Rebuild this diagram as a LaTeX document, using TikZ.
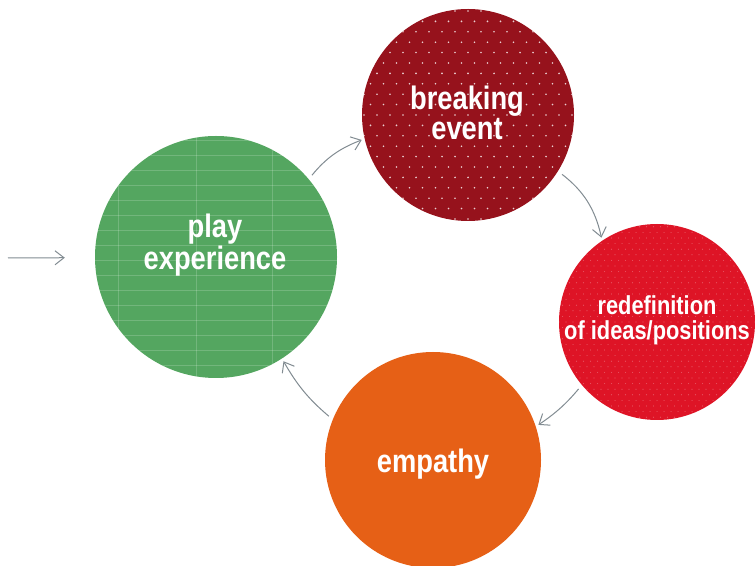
\documentclass[tikz,border=0pt]{standalone}
\usepackage{fontspec}
\setmainfont{Liberation Sans}[FakeStretch=0.84]
\usetikzlibrary{arrows.meta}
\definecolor{playgreen}{RGB}{84,166,96}
\definecolor{breakred}{RGB}{150,18,28}
\definecolor{redefred}{RGB}{222,20,38}
\definecolor{emporange}{RGB}{230,96,22}
\definecolor{flowgray}{RGB}{130,140,146}

\tikzset{
  bubble/.style={circle, inner sep=0pt, draw=none},
  bubtext/.style={text=white, font=\bfseries\fontsize{32.5}{29}\selectfont, align=center, inner sep=0pt},
  % faint ruled paper inside the green disc
  ruled/.style={path picture={
    \begin{scope}[x=1pt, y=1pt, shift={(path picture bounding box.center)}, white, opacity=.18, line width=.6pt]
      \foreach \k in {-9,...,9} \draw (-130,\k*15-3) -- (130,\k*15-3);
      \foreach \v in {-98,-20,56} \draw (\v,-130) -- (\v,130);
    \end{scope}}},
  % staggered dot raster: spacing, dot radius, opacity, columns, rows
  dotted fill/.style n args={5}{path picture={
    \begin{scope}[x=1pt, y=1pt, shift={(path picture bounding box.center)}, white, opacity=#3]
      \foreach \i in {-#4,...,#4} \foreach \j in {-#5,...,#5} {
        \fill (\i*#1, \j*#1*1.6) circle (#2);
        \fill (\i*#1+#1/2, \j*#1*1.6+#1*0.8) circle (#2);
      }
    \end{scope}}},
  flow/.style={draw=flowgray, line width=1pt, -{Straight Barb[length=9pt,width=14pt]}},
  loopflow/.style={flow, shorten <=5pt, shorten >=3pt}
}

\begin{document}
\begin{tikzpicture}[x=1pt, y=1pt]
  \clip (0,0) rectangle (755,565);
  \fill[white] (0,0) rectangle (755,565);

  %--- the four stages ---
  \node[bubble, fill=playgreen, minimum size=242pt, ruled] (play) at (216,308) {};
  \node[bubble, fill=breakred, minimum size=212pt, dotted fill={13}{0.9pt}{0.8}{9}{6}] (brk) at (468,450) {};
  \node[bubble, fill=redefred, minimum size=196pt, dotted fill={7}{0.6pt}{0.28}{15}{9}] (redef) at (657,243) {};
  \node[bubble, fill=emporange, minimum size=216pt] (emp) at (433,105) {};

  \node[bubtext] (playtxt) at (215,320) {play\\experience};
  \node[bubtext, font=\bfseries\fontsize{32.5}{30}\selectfont] (brktxt) at (467,452) {breaking\\event};
  \node[bubtext, font=\bfseries\fontsize{26}{25}\selectfont] (redeftxt) at (657,245) {redefinition\\of ideas/positions};
  \node[bubtext] (emptxt) at (433,101) {empathy};

  %--- arrows ---
  \coordinate (src) at (8,307);
  \draw[flow, shorten >=30pt] (src) -- (play);

  \draw[loopflow] (play.40) to[bend left=15] (brk.193);
  \draw[loopflow] (brk.-32) to[bend left=20] (redef.124);
  \draw[loopflow] (redef.220) to[bend left=8] (emp.18);
  \draw[loopflow] (emp.158) to[bend left=10] (play.-57);
\end{tikzpicture}
\end{document}
